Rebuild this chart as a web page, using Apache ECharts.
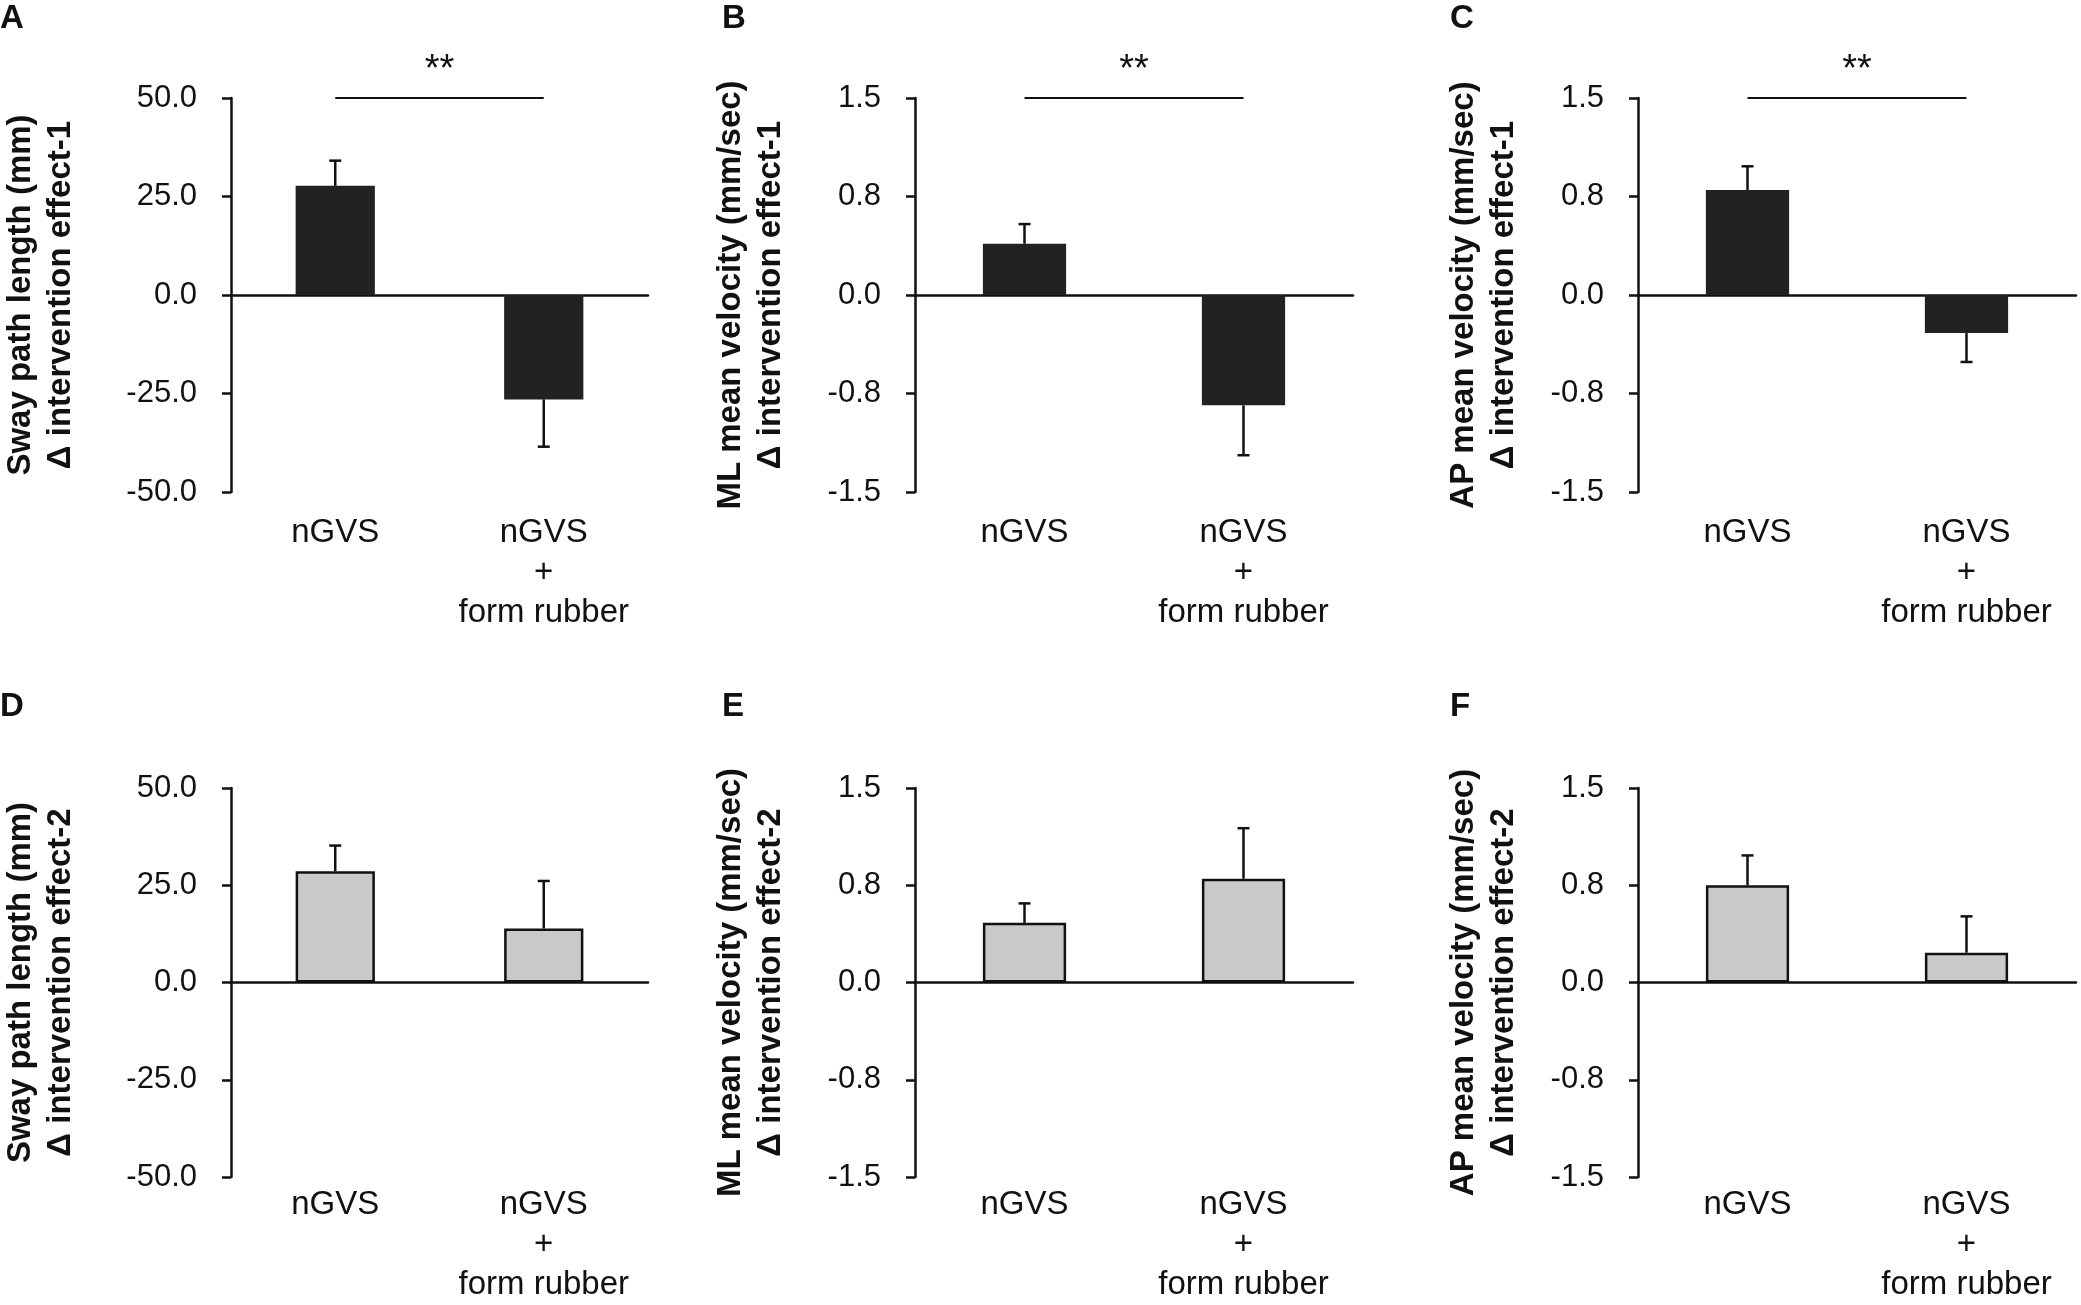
<!DOCTYPE html>
<html><head><meta charset="utf-8">
<script src="https://cdn.jsdelivr.net/npm/echarts@6/dist/echarts.min.js"></script>
<style>html,body{margin:0;padding:0;background:#fff}#c{width:2081px;height:1305px}</style>
</head><body><div id="c"></div>
<script>
// ---- data ----
const categories = ['nGVS', 'nGVS\n+\nform rubber'];
const swayTicks = [-50, -25, 0, 25, 50];
const velTicks = [-1.5, -0.75, 0, 0.75, 1.5];

const swayEffect1Mean = [27.7, -26.5];
const swayEffect1SE = [6.4, 12.0];
const mlEffect1Mean = [0.39, -0.84];
const mlEffect1SE = [0.15, 0.38];
const apEffect1Mean = [0.80, -0.29];
const apEffect1SE = [0.18, 0.22];

const swayEffect2Mean = [28.6, 13.9];
const swayEffect2SE = [6.6, 12.2];
const mlEffect2Mean = [0.46, 0.80];
const mlEffect2SE = [0.15, 0.39];
const apEffect2Mean = [0.75, 0.23];
const apEffect2SE = [0.23, 0.28];

const panelLetters = ['A', 'B', 'C', 'D', 'E', 'F'];
const nameLine1 = ['Sway path length (mm)', 'ML mean velocity (mm/sec)', 'AP mean velocity (mm/sec)'];
const nameLine2 = ['Δ intervention effect-1', 'Δ intervention effect-2'];
const sigMark = '**';

// ---- layout ----
const cols = [{left: 228, width: 420, gap: 150}, {left: 915, width: 438, gap: 124}, {left: 1638, width: 438, gap: 114}];
const rows = [{top: 98, height: 394, labelMargin: 21}, {top: 788, height: 394, labelMargin: 8}];
const letterPos = [[0, 2], [722, 2], [1450, 2], [0, 690], [722, 690], [1450, 690]];

const panels = [
  {mean: swayEffect1Mean, se: swayEffect1SE, ticks: swayTicks, row: 0, col: 0, sig: true},
  {mean: mlEffect1Mean, se: mlEffect1SE, ticks: velTicks, row: 0, col: 1, sig: true},
  {mean: apEffect1Mean, se: apEffect1SE, ticks: velTicks, row: 0, col: 2, sig: true},
  {mean: swayEffect2Mean, se: swayEffect2SE, ticks: swayTicks, row: 1, col: 0, sig: false},
  {mean: mlEffect2Mean, se: mlEffect2SE, ticks: velTicks, row: 1, col: 1, sig: false},
  {mean: apEffect2Mean, se: apEffect2SE, ticks: velTicks, row: 1, col: 2, sig: false}
];

const FONT = '"Liberation Sans", Arial, Helvetica, sans-serif';
const INK = '#111111';

function errRender(params, api) {
  const i = api.value(0), v = api.value(1), e = api.value(2);
  const end = v >= 0 ? v + e : v - e;
  const p0 = api.coord([i, v]), p1 = api.coord([i, end]);
  const hw = 6;
  return {type: 'group', children: [
    {type: 'line', shape: {x1: p0[0], y1: p0[1], x2: p1[0], y2: p1[1]}, style: {stroke: INK, lineWidth: 2.5}},
    {type: 'line', shape: {x1: p1[0] - hw, y1: p1[1], x2: p1[0] + hw, y2: p1[1]}, style: {stroke: INK, lineWidth: 2.5}}
  ]};
}
function sigRender(params, api) {
  const a = api.coord([api.value(0), api.value(2)]);
  const b = api.coord([api.value(1), api.value(2)]);
  return {type: 'group', children: [
    {type: 'line', shape: {x1: a[0], y1: a[1], x2: b[0], y2: b[1]}, style: {stroke: INK, lineWidth: 2.2}},
    {type: 'text', x: (a[0] + b[0]) / 2, y: a[1] - 27, style: {text: sigMark, font: '38px ' + FONT, fill: INK, textAlign: 'center', textVerticalAlign: 'middle'}}
  ]};
}

const grid = [], xAxis = [], yAxis = [], series = [], graphic = [];
panels.forEach((p, k) => {
  const c = cols[p.col], r = rows[p.row];
  grid.push({left: c.left, top: r.top, width: c.width, height: r.height, containLabel: false});
  // zero line axis
  xAxis.push({type: 'category', gridIndex: k, data: categories,
    axisLine: {show: true, onZero: true, lineStyle: {color: INK, width: 2.5}},
    axisTick: {show: false}, axisLabel: {show: false}, splitLine: {show: false}});
  // label axis at bottom
  xAxis.push({type: 'category', gridIndex: k, data: categories, position: 'bottom',
    axisLine: {show: false, onZero: false}, axisTick: {show: false},
    axisLabel: {show: true, fontFamily: FONT, fontSize: 33, lineHeight: 40, color: INK, margin: r.labelMargin, interval: 0},
    splitLine: {show: false}});
  const t = p.ticks;
  yAxis.push({type: 'value', gridIndex: k, min: t[0], max: t[t.length - 1], interval: t[1] - t[0],
    name: nameLine1[p.col] + '\n' + nameLine2[p.row], nameLocation: 'middle', nameRotate: 90, nameGap: c.gap,
    nameTextStyle: {fontFamily: FONT, fontSize: 33, fontWeight: 'bold', lineHeight: 40, color: INK},
    axisLine: {show: true, lineStyle: {color: INK, width: 2.5}},
    axisTick: {show: true, inside: false, length: 9, lineStyle: {color: INK, width: 2.5}},
    axisLabel: {fontFamily: FONT, fontSize: 31, color: INK, margin: 34, formatter: v => v.toFixed(1)},
    splitLine: {show: false}});
  const dark = p.row === 0;
  series.push({type: 'bar', xAxisIndex: 2 * k, yAxisIndex: k, data: p.mean, barWidth: '38%',
    itemStyle: dark ? {color: '#222222'} : {color: '#c9c9c9', borderColor: INK, borderWidth: 2.5},
    animation: false, z: 2});
  series.push({type: 'custom', xAxisIndex: 2 * k, yAxisIndex: k, renderItem: errRender,
    data: p.mean.map((m, i) => [i, m, p.se[i]]), encode: {x: 0, y: 1}, animation: false, z: 3});
  if (p.sig) {
    series.push({type: 'custom', xAxisIndex: 2 * k, yAxisIndex: k, renderItem: sigRender,
      data: [[0, 1, t[t.length - 1]]], encode: {x: [0, 1], y: 2}, animation: false, z: 3, clip: false});
  }
  graphic.push({type: 'text', left: letterPos[k][0], top: letterPos[k][1],
    style: {text: panelLetters[k], font: 'bold 33px ' + FONT, fill: INK}});
});

const chart = echarts.init(document.getElementById('c'), null, {renderer: 'canvas'});
chart.setOption({animation: false, backgroundColor: '#ffffff', grid, xAxis, yAxis, series, graphic});
</script></body></html>
